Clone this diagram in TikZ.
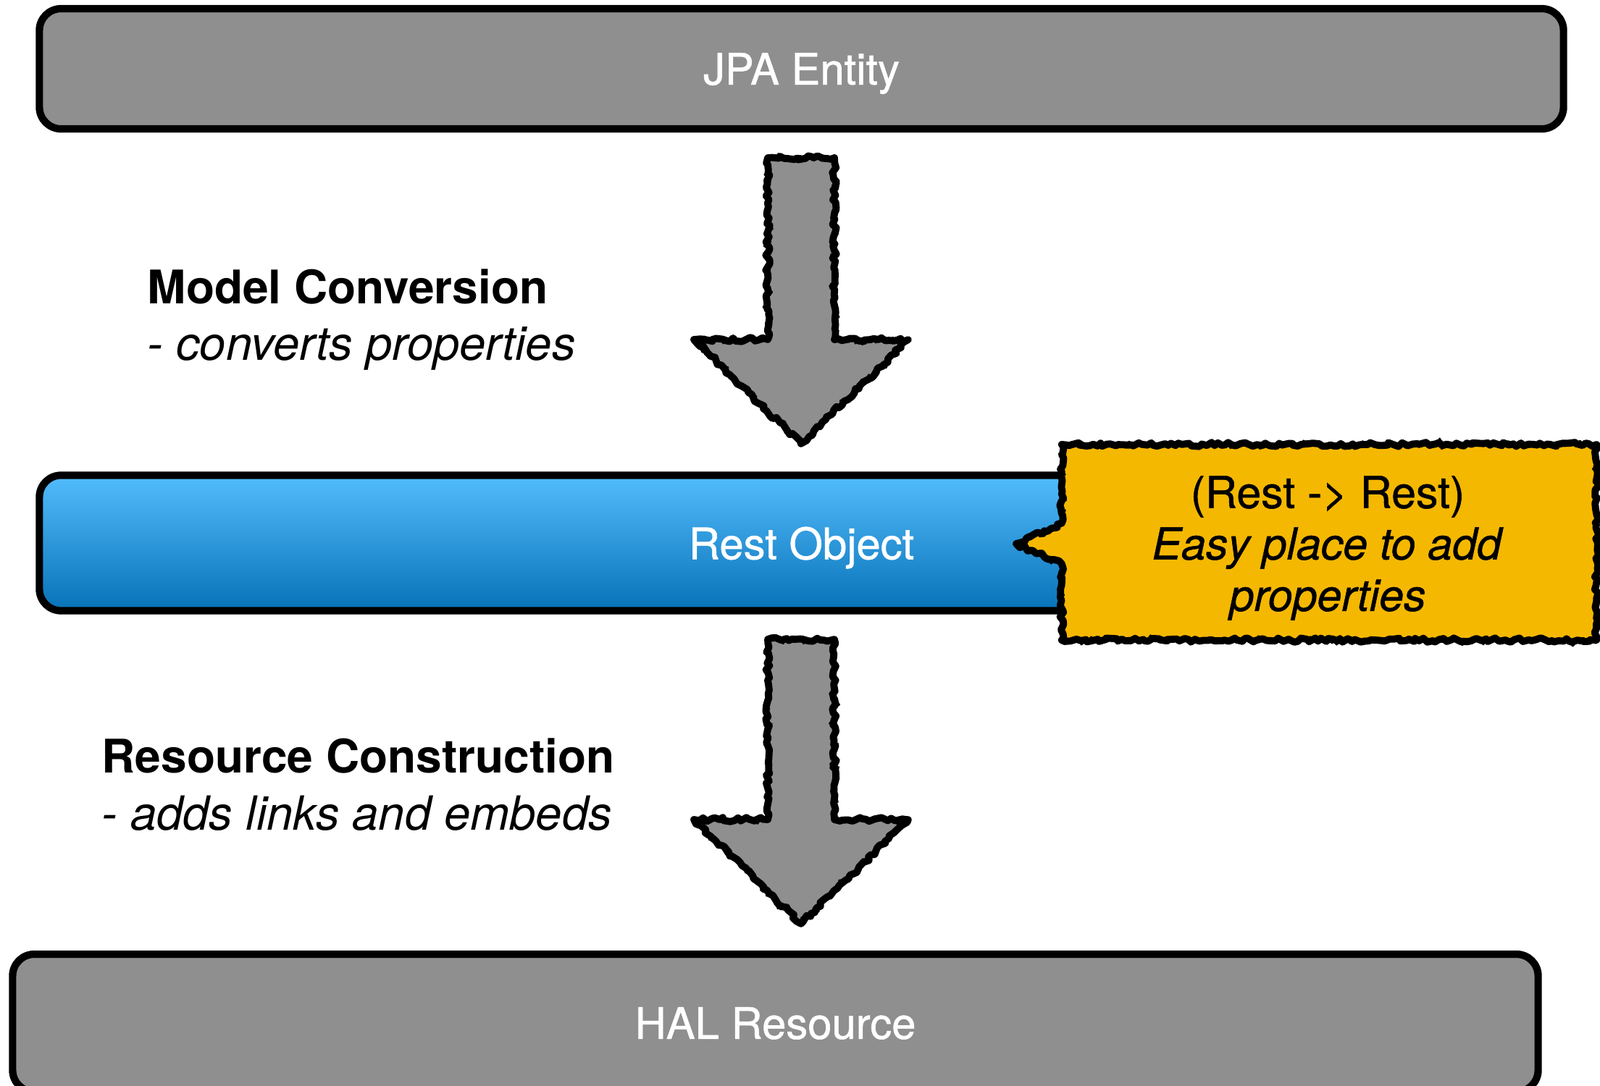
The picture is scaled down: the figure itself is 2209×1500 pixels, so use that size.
\documentclass[tikz,border=0pt]{standalone}
\usepackage{fontspec}
\setmainfont{TeX Gyre Heros}
\newfontfamily\medfont[FakeBold=0.9]{TeX Gyre Heros}
\usetikzlibrary{decorations.pathmorphing,shapes.callouts}
\definecolor{boxgray}{RGB}{143,143,143}
\definecolor{topblue}{RGB}{82,188,252}
\definecolor{botblue}{RGB}{8,114,184}
\definecolor{noteyellow}{RGB}{245,184,0}
\tikzset{
  bar/.style={draw=black,line width=2.9pt,rounded corners=0.3cm,inner sep=0pt,
    text=white,text depth=0pt,font=\medfont\fontsize{17}{20}\selectfont},
  graybar/.style={bar,fill=boxgray},
  sidehead/.style={anchor=base west,inner sep=0pt,font=\fontsize{18.2}{22}\selectfont\bfseries},
  sidesub/.style={anchor=base west,inner sep=0pt,font=\fontsize{18.5}{22}\selectfont\itshape},
  sketch/.style={line width=2.8pt,line join=round,
    decorate,decoration={random steps,segment length=1.5pt,amplitude=0.8pt}},
  sketchover/.style={draw=black,line width=0.9pt,line join=round,
    decorate,decoration={random steps,segment length=1.1pt,amplitude=1.5pt}},
  blockarrow/.style={fill=boxgray,draw=black,sketch,postaction={sketchover}},
}
\begin{document}
\begin{tikzpicture}[x=0.01cm,y=-0.01cm]
\useasboundingbox (0,0) rectangle (2209,1500);
\clip (0,0) rectangle (2209,1500);

% boxes
\node[graybar,minimum width=21.03cm,minimum height=1.66cm] (jpa) at (1106.5,95) {JPA Entity};
\node[bar,top color=topblue,bottom color=botblue,minimum width=21.03cm,minimum height=1.87cm] (rest) at (1106.5,750) {Rest Object};
\node[graybar,minimum width=21.05cm,minimum height=1.90cm] (hal) at (1070.5,1413) {HAL Resource};

% block arrows
\coordinate (a1top) at (1106,218);
\coordinate (a1tip) at (1106,613);
\coordinate (a2top) at (1106,883);
\coordinate (a2tip) at (1106,1276);
\draw[blockarrow] (a1top) ++(-46,0) -- ++(0,251) -- ++(-102,0) -- (a1tip)
  -- ++(148,-144) -- ++(-102,0) -- ++(0,-251) -- cycle;
\draw[blockarrow] (a2top) ++(-46,0) -- ++(0,249) -- ++(-102,0) -- (a2tip)
  -- ++(148,-144) -- ++(-102,0) -- ++(0,-249) -- cycle;

% side labels
\node[sidehead] (mc) at (203,419) {Model Conversion};
\node[sidesub] (mcs) at (203,497) {- converts properties};
\node[sidehead] (rc) at (140,1067) {Resource Construction};
\node[sidesub] (rcs) at (140,1146) {- adds links and embeds};

% callout
\node[rectangle callout,fill=noteyellow,draw=black,sketch,postaction={sketchover},
  minimum width=7.38cm,minimum height=2.70cm,inner sep=0pt,
  callout absolute pointer={(1403,751)},callout pointer width=0.56cm] (note) at (1835,749) {};
\node[font=\medfont\fontsize{17.3}{20.2}\selectfont,align=center,inner sep=0pt] (notetext) at (1833,757)
  {(Rest -> Rest)\\\textit{Easy place to add}\\\textit{properties}};
\end{tikzpicture}
\end{document}
